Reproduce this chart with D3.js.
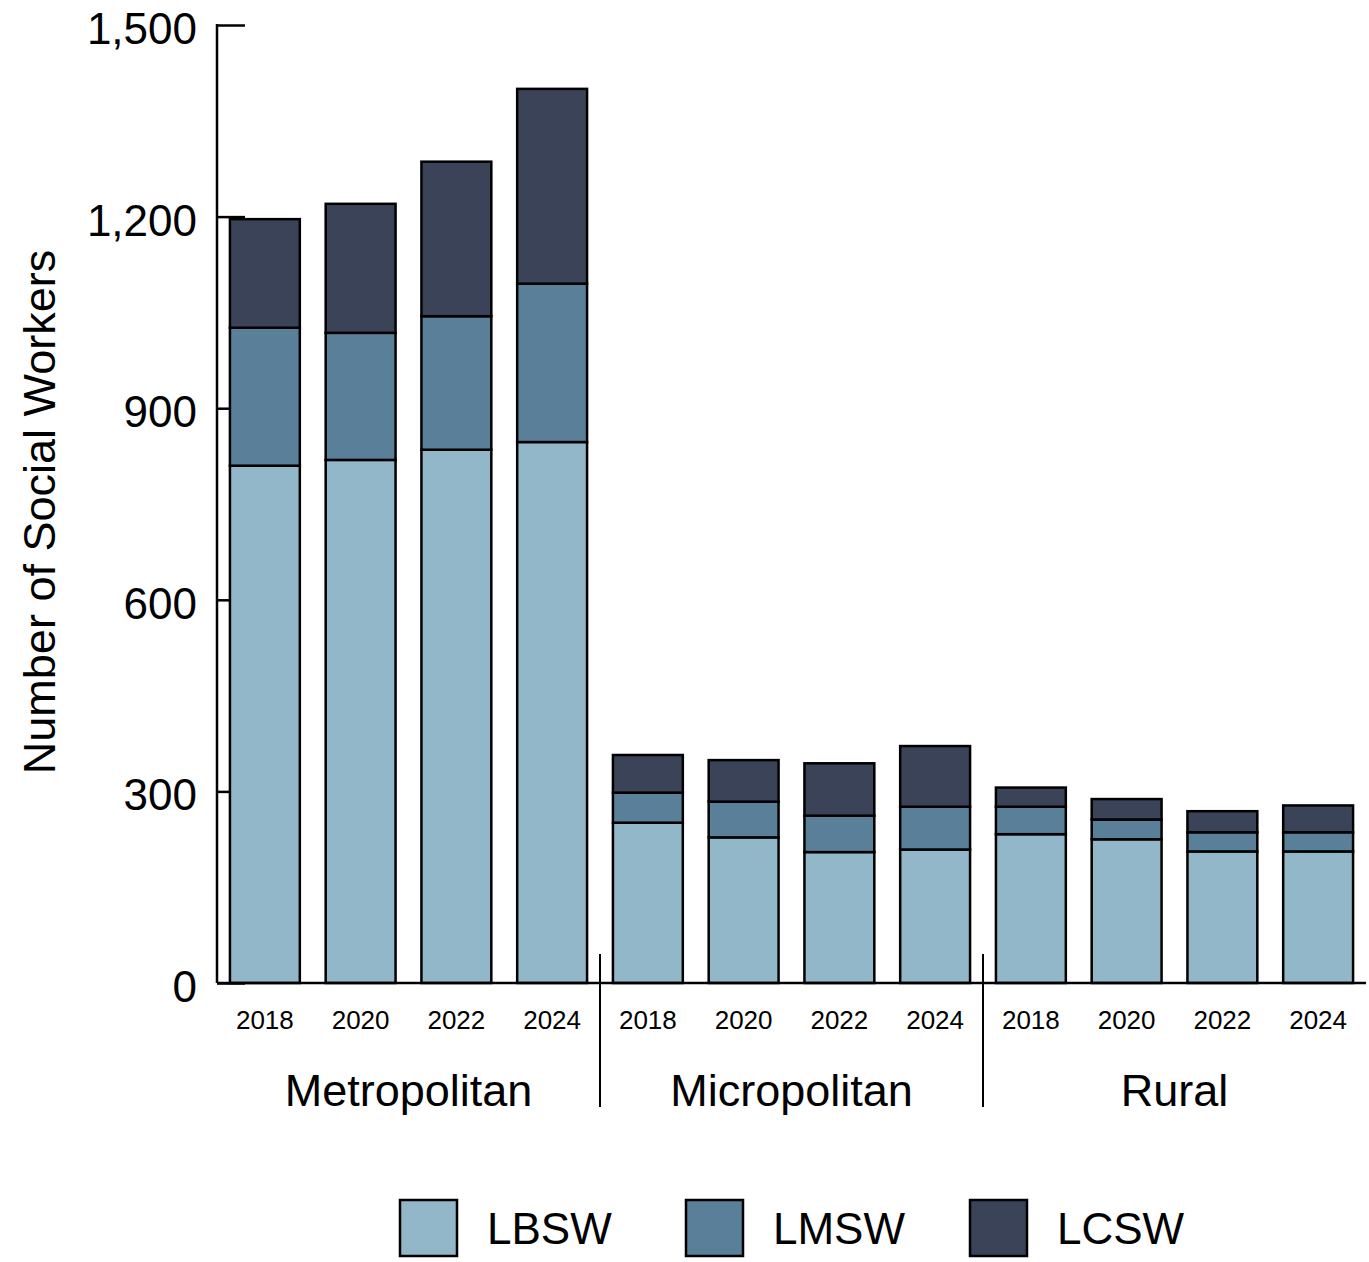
<!DOCTYPE html>
<html>
<head>
<meta charset="utf-8">
<script src="https://cdn.jsdelivr.net/npm/d3@7"></script>
<style>
  body { margin: 0; background: #fff; }
  svg { display: block; font-family: "Liberation Sans", Arial, sans-serif; }
</style>
</head>
<body>
<div id="chart"></div>
<script>
// data
const regions = ["Metropolitan", "Micropolitan", "Rural"];
const years = ["2018", "2020", "2022", "2024"];
const licenses = ["LBSW", "LMSW", "LCSW"];
const lbsw = [810, 819, 835, 847,  251, 228, 205, 209,  233, 225, 206, 206];
const lmsw = [216, 199, 209, 248,  47, 56, 57, 67,  43, 31, 30, 30];
const lcsw = [170, 202, 242, 305,  59, 65, 82, 95,  30, 32, 33, 42];
const yTicks = [0, 300, 600, 900, 1200, 1500];
const colors = ["#91b7c8", "#5a8099", "#3b4358"];

const width = 1369, height = 1262;
const x0 = 217, x1 = 1366, yBase = 983, yTop = 25;

const rows = [];
regions.forEach((r, i) => years.forEach((yr, j) => {
  const k = i * years.length + j;
  rows.push({ key: r + "-" + yr, region: r, year: yr, LBSW: lbsw[k], LMSW: lmsw[k], LCSW: lcsw[k] });
}));

const svg = d3.select("#chart").append("svg")
  .attr("width", width)
  .attr("height", height);

const x = d3.scaleBand()
  .domain(rows.map(d => d.key))
  .range([x0, x1])
  .paddingInner(0.27)
  .paddingOuter(0.135);

const y = d3.scaleLinear()
  .domain([0, 1500])
  .range([yBase, yTop]);

const color = d3.scaleOrdinal().domain(licenses).range(colors);

// y axis (ticks point inward, drawn beneath bars)
const yAxis = svg.append("g")
  .attr("transform", `translate(${x0},0)`)
  .call(d3.axisRight(y).tickValues(yTicks).tickSize(28).tickFormat(""));
yAxis.select(".domain").remove();
yAxis.selectAll(".tick line").attr("stroke", "#000").attr("stroke-width", 2.5);

svg.append("line")
  .attr("x1", x0).attr("x2", x0)
  .attr("y1", yTop - 1).attr("y2", yBase)
  .attr("stroke", "#000").attr("stroke-width", 2.5);

svg.append("g")
  .selectAll("text")
  .data(yTicks)
  .join("text")
  .attr("x", 197)
  .attr("y", d => y(d))
  .attr("dy", "0.43em")
  .attr("text-anchor", "end")
  .attr("font-size", 44)
  .text(d => d3.format(",")(d));

// stacked bars
const series = d3.stack().keys(licenses)(rows);

svg.append("g")
  .selectAll("g")
  .data(series)
  .join("g")
  .attr("fill", d => color(d.key))
  .selectAll("rect")
  .data(d => d)
  .join("rect")
  .attr("x", d => x(d.data.key))
  .attr("width", x.bandwidth())
  .attr("y", d => y(d[1]))
  .attr("height", d => y(d[0]) - y(d[1]))
  .attr("stroke", "#000")
  .attr("stroke-width", 2.5);

// x axis line
svg.append("line")
  .attr("x1", x0).attr("x2", x1)
  .attr("y1", yBase).attr("y2", yBase)
  .attr("stroke", "#000").attr("stroke-width", 2.5);

// year labels
svg.append("g")
  .selectAll("text")
  .data(rows)
  .join("text")
  .attr("x", d => x(d.key) + x.bandwidth() / 2)
  .attr("y", 1029)
  .attr("text-anchor", "middle")
  .attr("font-size", 26)
  .text(d => d.year);

// region labels + separators
const regionCenter = r => {
  const ks = rows.filter(d => d.region === r).map(d => d.key);
  return (x(ks[0]) + x(ks[ks.length - 1]) + x.bandwidth()) / 2;
};

svg.append("g")
  .selectAll("text")
  .data(regions)
  .join("text")
  .attr("x", d => regionCenter(d))
  .attr("y", 1106)
  .attr("text-anchor", "middle")
  .attr("font-size", 45)
  .text(d => d);

const seps = regions.slice(1).map(r => {
  const first = rows.find(d => d.region === r).key;
  return x(first) - x.step() * x.paddingInner() / 2;
});

svg.append("g")
  .selectAll("line")
  .data(seps)
  .join("line")
  .attr("x1", d => d).attr("x2", d => d)
  .attr("y1", 954).attr("y2", 1107)
  .attr("stroke", "#000").attr("stroke-width", 2);

// y title
svg.append("text")
  .attr("transform", "translate(55,512) rotate(-90)")
  .attr("text-anchor", "middle")
  .attr("font-size", 45)
  .text("Number of Social Workers");

// legend
const legendX = [400, 686, 970];
const legend = svg.append("g")
  .selectAll("g")
  .data(licenses)
  .join("g")
  .attr("transform", (d, i) => `translate(${legendX[i]},1200)`);

legend.append("rect")
  .attr("width", 57)
  .attr("height", 56)
  .attr("fill", d => color(d))
  .attr("stroke", "#000")
  .attr("stroke-width", 2.5);

legend.append("text")
  .attr("x", 87)
  .attr("y", 44)
  .attr("font-size", 44)
  .text(d => d);
</script>
</body>
</html>
